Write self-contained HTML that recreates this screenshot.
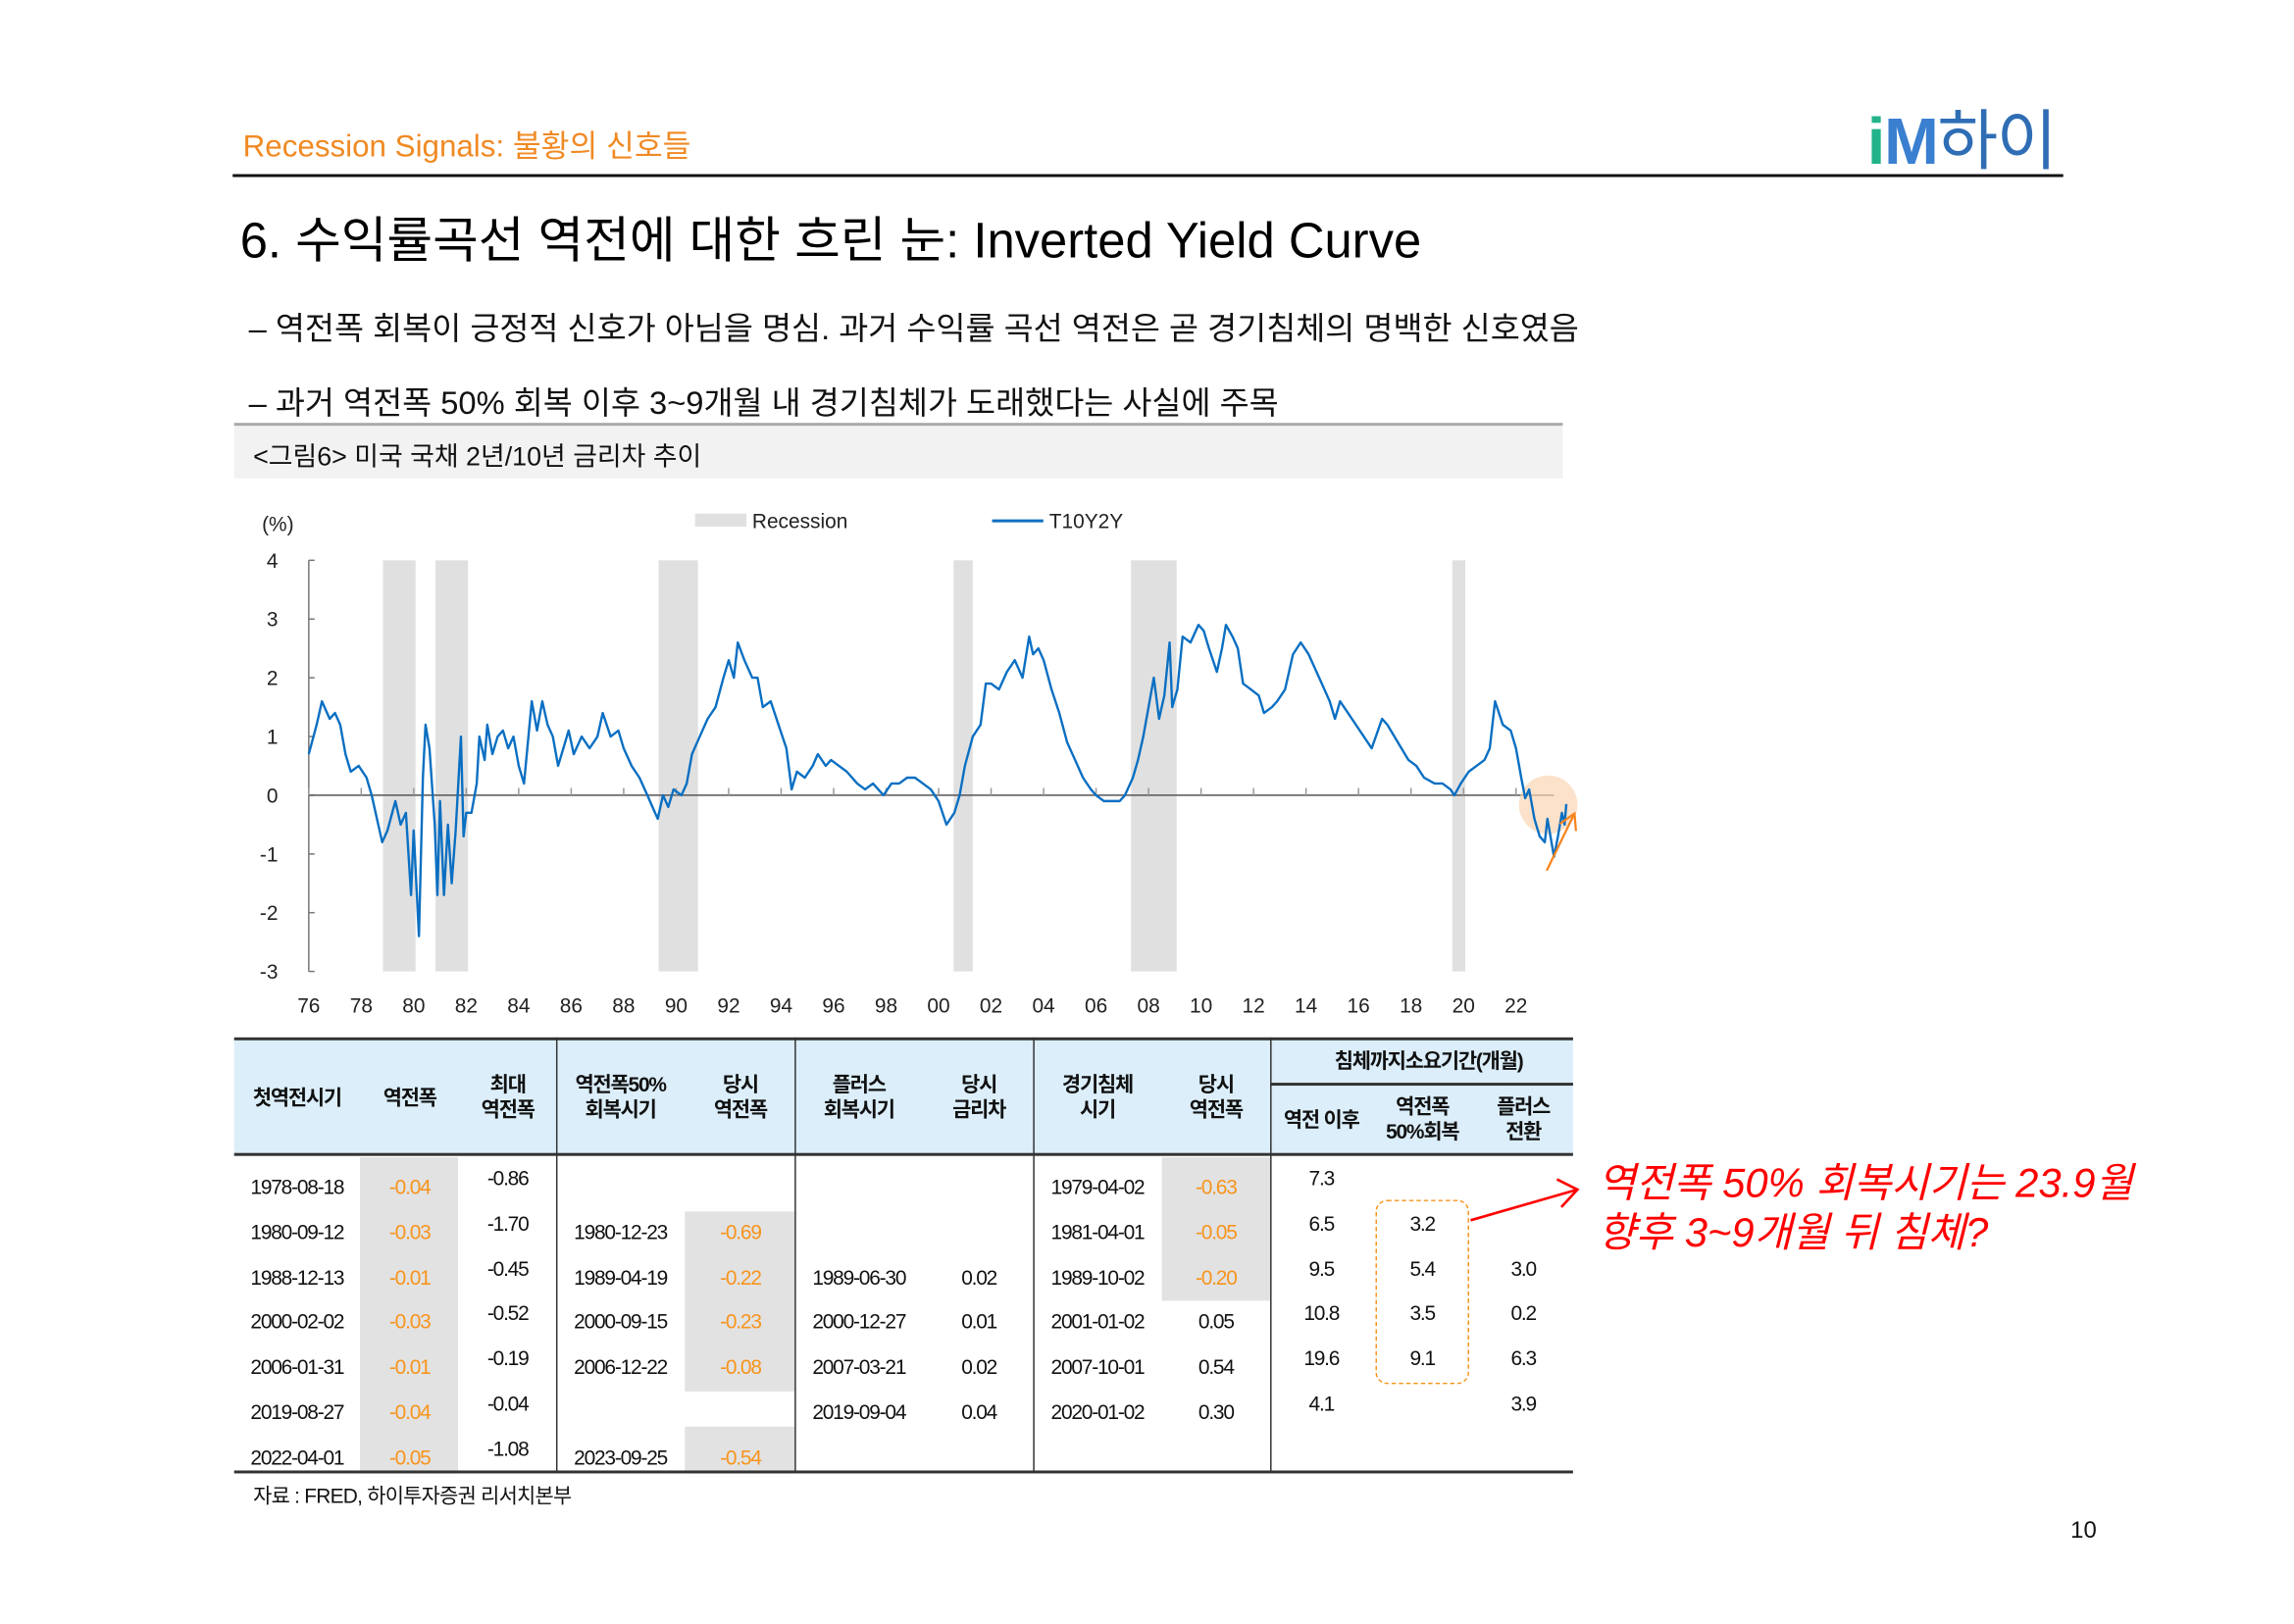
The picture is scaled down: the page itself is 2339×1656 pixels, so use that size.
<!DOCTYPE html>
<html><head><meta charset="utf-8">
<style>
html,body{margin:0;padding:0;background:#fff;}
body{width:2339px;height:1654px;overflow:hidden;position:relative;}
#page{position:absolute;left:0;top:0;width:1570px;height:1110px;transform:scale(1.492);transform-origin:0 0;font-family:"Liberation Sans","Noto Sans CJK KR",sans-serif;color:#111;}
.abs{position:absolute;white-space:nowrap;}
.t{position:absolute;font-size:14px;letter-spacing:-0.8px;text-align:center;white-space:nowrap;}
.o{color:#f7941d;}
</style></head><body>
<div id="page">
<div class="abs" style="left:166px;top:84px;font-size:21px;color:#f08a24;">Recession Signals: 불황의 신호들</div>
<div class="abs" style="left:1276px;top:60px;font-size:45px;font-weight:bold;letter-spacing:-1px;"><span style="color:#22b38a;">i</span><span style="color:#3a7fd0;">M</span><span style="color:#2f6db5;font-weight:normal;">하이</span></div>
<div class="abs" style="left:159px;top:119px;width:1251px;height:2px;background:#111;"></div>
<div class="abs" style="left:164px;top:137px;font-size:34px;color:#000;">6. 수익률곡선 역전에 대한 흐린 눈: Inverted Yield Curve</div>
<div class="abs" style="left:170px;top:208px;font-size:21.9px;">– 역전폭 회복이 긍정적 신호가 아님을 명심. 과거 수익률 곡선 역전은 곧 경기침체의 명백한 신호였음</div>
<div class="abs" style="left:170px;top:259px;font-size:21.9px;">– 과거 역전폭 50% 회복 이후 3~9개월 내 경기침체가 도래했다는 사실에 주목</div>
<div class="abs" style="left:160px;top:289px;width:908px;height:38px;background:#f2f2f2;border-top:2px solid #aaa;box-sizing:border-box;"><span style="position:absolute;left:13px;top:7px;font-size:18px;">&lt;그림6&gt; 미국 국채 2년/10년 금리차 추이</span></div>

<svg id="chart" class="abs" style="left:0;top:0;" width="1570" height="1110"></svg>

<div class="abs" style="left:160px;top:709px;width:915px;height:298px;">
 <div class="abs" style="left:0;top:0;width:915px;height:81px;background:#dbeefa;border-top:2px solid #333;border-bottom:2px solid #333;box-sizing:border-box;"></div>
 <div class="abs" style="left:86px;top:82px;width:67px;height:216px;background:#e2e2e2;"></div>
 <div class="abs" style="left:308px;top:119px;width:75px;height:123px;background:#e2e2e2;"></div>
 <div class="abs" style="left:308px;top:266px;width:75px;height:32px;background:#e2e2e2;"></div>
 <div class="abs" style="left:634px;top:82px;width:74px;height:98px;background:#e2e2e2;"></div>
 <div class="abs" style="left:220px;top:0;width:1px;height:297px;background:#333;"></div>
 <div class="abs" style="left:383px;top:0;width:1px;height:297px;background:#333;"></div>
 <div class="abs" style="left:546px;top:0;width:1px;height:297px;background:#333;"></div>
 <div class="abs" style="left:708px;top:0;width:1px;height:297px;background:#333;"></div>
 <div class="abs" style="left:708px;top:31px;width:207px;height:1.5px;background:#333;"></div>
 <div class="abs" style="left:0;top:296px;width:915px;height:2px;background:#333;"></div>
</div>
<div id="tbl"></div>
<div class="abs" style="left:940px;top:820px;width:64px;height:126px;border:1.5px dashed #f7941d;border-radius:8px;box-sizing:border-box;"></div>
<svg class="abs" style="left:0;top:0" width="1570" height="1110"><line x1="1005" y1="834" x2="1078" y2="813" stroke="#ff0000" stroke-width="1.8"/><polyline points="1064,806 1078,813 1067,825" fill="none" stroke="#ff0000" stroke-width="1.8"/></svg>
<div class="abs" style="left:1092px;top:792px;font-size:28px;font-style:italic;color:#ff0000;line-height:34px;">역전폭 50% 회복시기는 23.9월<br>향후 3~9개월 뒤 침체?</div>
<div class="abs" style="left:173px;top:1012px;font-size:14px;letter-spacing:-0.5px;">자료 : FRED, 하이투자증권 리서치본부</div>
<div class="abs" style="left:1415px;top:1038px;font-size:16px;">10</div>
</div>

<script>
const years=[1976.0,1976.3,1976.5,1976.8,1977.0,1977.2,1977.4,1977.6,1977.9,1978.2,1978.4,1978.6,1978.8,1979.0,1979.3,1979.5,1979.7,1979.9,1980.0,1980.2,1980.35,1980.45,1980.6,1980.8,1980.9,1981.0,1981.15,1981.3,1981.45,1981.6,1981.8,1981.9,1982.0,1982.2,1982.4,1982.5,1982.7,1982.8,1983.0,1983.2,1983.4,1983.6,1983.8,1984.0,1984.2,1984.5,1984.7,1984.9,1985.1,1985.3,1985.5,1985.7,1985.9,1986.1,1986.4,1986.7,1987.0,1987.2,1987.5,1987.8,1988.0,1988.3,1988.6,1988.9,1989.1,1989.3,1989.5,1989.7,1989.9,1990.2,1990.4,1990.6,1990.9,1991.2,1991.5,1991.8,1992.0,1992.2,1992.35,1992.6,1992.9,1993.1,1993.3,1993.6,1993.9,1994.2,1994.4,1994.6,1994.9,1995.2,1995.4,1995.7,1995.9,1996.2,1996.5,1996.9,1997.2,1997.5,1997.9,1998.2,1998.5,1998.8,1999.1,1999.4,1999.7,2000.0,2000.3,2000.6,2000.8,2001.0,2001.3,2001.6,2001.8,2002.0,2002.3,2002.6,2002.9,2003.2,2003.45,2003.6,2003.8,2004.0,2004.3,2004.6,2004.9,2005.2,2005.5,2005.8,2006.0,2006.3,2006.6,2006.9,2007.1,2007.4,2007.6,2007.8,2008.0,2008.2,2008.4,2008.6,2008.8,2008.9,2009.1,2009.3,2009.6,2009.9,2010.1,2010.3,2010.6,2010.8,2010.95,2011.2,2011.4,2011.6,2011.9,2012.2,2012.4,2012.7,2012.9,2013.2,2013.5,2013.8,2014.1,2014.4,2014.7,2014.9,2015.1,2015.3,2015.6,2015.9,2016.2,2016.5,2016.9,2017.1,2017.5,2017.9,2018.2,2018.5,2018.9,2019.2,2019.5,2019.65,2019.9,2020.2,2020.5,2020.8,2021.0,2021.2,2021.5,2021.8,2022.0,2022.2,2022.35,2022.5,2022.7,2022.9,2023.1,2023.2,2023.45,2023.6,2023.75,2023.85,2023.92];
const spread=[0.7,1.2,1.6,1.3,1.4,1.2,0.7,0.4,0.5,0.3,0.0,-0.4,-0.8,-0.6,-0.1,-0.5,-0.3,-1.7,-0.6,-2.4,0.3,1.2,0.8,-0.5,-1.7,-0.1,-1.7,-0.5,-1.5,-0.6,1.0,-0.7,-0.3,-0.3,0.2,1.0,0.6,1.2,0.7,1.0,1.1,0.8,1.0,0.5,0.2,1.6,1.1,1.6,1.2,1.0,0.5,0.8,1.1,0.7,1.0,0.8,1.0,1.4,1.0,1.1,0.8,0.5,0.3,0.0,-0.2,-0.4,0.0,-0.2,0.1,0.0,0.2,0.7,1.0,1.3,1.5,2.0,2.3,2.0,2.6,2.3,2.0,2.0,1.5,1.6,1.2,0.8,0.1,0.4,0.3,0.5,0.7,0.5,0.6,0.5,0.4,0.2,0.1,0.2,0.0,0.2,0.2,0.3,0.3,0.2,0.1,-0.1,-0.5,-0.3,0.0,0.5,1.0,1.2,1.9,1.9,1.8,2.1,2.3,2.0,2.7,2.4,2.5,2.3,1.8,1.4,0.9,0.6,0.3,0.1,0.0,-0.1,-0.1,-0.1,0.0,0.3,0.6,1.0,1.5,2.0,1.3,1.7,2.6,1.5,1.8,2.7,2.6,2.9,2.8,2.5,2.1,2.5,2.9,2.7,2.5,1.9,1.8,1.7,1.4,1.5,1.6,1.8,2.4,2.6,2.4,2.1,1.8,1.6,1.3,1.6,1.4,1.2,1.0,0.8,1.3,1.2,0.9,0.6,0.5,0.3,0.2,0.2,0.1,0.0,0.2,0.4,0.5,0.6,0.8,1.6,1.2,1.1,0.8,0.3,-0.05,0.1,-0.4,-0.7,-0.8,-0.4,-1.05,-0.7,-0.3,-0.5,-0.15];
const recStart=[1978.83,1980.83,1989.33,2000.57,2007.33,2019.57];
const recEnd=[1980.07,1982.07,1990.83,2001.3,2009.07,2020.07];
const yTicks=[4,3,2,1,0,-1,-2,-3];
const xTickYears=[1976,1978,1980,1982,1984,1986,1988,1990,1992,1994,1996,1998,2000,2002,2004,2006,2008,2010,2012,2014,2016,2018,2020,2022];

const svg=document.getElementById('chart');const NS='http://www.w3.org/2000/svg';
function xs(v){return 211+(v-1976)*17.935;}
function ys(v){return 543.5-v*40.14;}
function mk(tag,attrs,parent){const e=document.createElementNS(NS,tag);for(const k in attrs)e.setAttribute(k,attrs[k]);(parent||svg).appendChild(e);return e;}
recStart.forEach((s,i)=>{const r=mk('rect',{x:xs(s),y:ys(4),width:xs(recEnd[i])-xs(s),height:ys(-3)-ys(4),fill:'#e0e0e0'});

});
const ax=mk('line',{x1:211,y1:ys(4),x2:211,y2:ys(-3),stroke:'#777','stroke-width':1});


yTicks.forEach(v=>{mk('line',{x1:211,x2:215,y1:ys(v),y2:ys(v),stroke:'#777'});
const t=mk('text',{x:190,y:ys(v)+5,'text-anchor':'end','font-size':14,fill:'#222'});t.textContent=v;

});
const zl=mk('line',{x1:211,y1:ys(0),x2:1062,y2:ys(0),stroke:'#555','stroke-width':1});


xTickYears.forEach(y=>{mk('line',{x1:xs(y),x2:xs(y),y1:ys(0),y2:ys(0)-5,stroke:'#999'});
const t=mk('text',{x:xs(y),y:692,'text-anchor':'middle','font-size':14,fill:'#222'});t.textContent=String(y%100).padStart(2,'0');

});
const circ=mk('circle',{cx:1058,cy:550,r:20,fill:'#fbd5b5',opacity:0.7});


let d='';years.forEach((y,i)=>{d+=(i?'L':'M')+xs(y).toFixed(1)+','+ys(spread[i]).toFixed(1);});
const ln=mk('path',{d:d,fill:'none',stroke:'#0a6fc2','stroke-width':1.6,'stroke-linejoin':'round'});


mk('line',{x1:1057,y1:595,x2:1076,y2:556,stroke:'#f7841d','stroke-width':1.5});
mk('polyline',{points:'1066,563 1076,556 1077,568',fill:'none',stroke:'#f7841d','stroke-width':1.5});
const pu=mk('text',{x:179,y:363,'font-size':14,fill:'#222'});pu.textContent='(%)';


const lg1=mk('rect',{x:475,y:351,width:35,height:9,fill:'#e0e0e0'});


const lt1=mk('text',{x:514,y:361,'font-size':14,fill:'#222'});lt1.textContent='Recession';


mk('line',{x1:678,x2:713,y1:356,y2:356,stroke:'#0a6fc2','stroke-width':2});
const lt2=mk('text',{x:717,y:361,'font-size':14,fill:'#222'});lt2.textContent='T10Y2Y';



const colC=[203,280,347,424,506,587,669,750,831,903,972,1041];
const hdr=[['첫역전시기',750],['역전폭',750],['최대<br>역전폭',750],['역전폭50%<br>회복시기',750],['당시<br>역전폭',750],['플러스<br>회복시기',750],['당시<br>금리차',750],['경기침체<br>시기',750],['당시<br>역전폭',750],['역전 이후',765],['역전폭<br>50%회복',765],['플러스<br>전환',765]];
const rows=[
['1978-08-18','-0.04','-0.86','','','','','1979-04-02','-0.63','7.3','',''],
['1980-09-12','-0.03','-1.70','1980-12-23','-0.69','','','1981-04-01','-0.05','6.5','3.2',''],
['1988-12-13','-0.01','-0.45','1989-04-19','-0.22','1989-06-30','0.02','1989-10-02','-0.20','9.5','5.4','3.0'],
['2000-02-02','-0.03','-0.52','2000-09-15','-0.23','2000-12-27','0.01','2001-01-02','0.05','10.8','3.5','0.2'],
['2006-01-31','-0.01','-0.19','2006-12-22','-0.08','2007-03-21','0.02','2007-10-01','0.54','19.6','9.1','6.3'],
['2019-08-27','-0.04','-0.04','','','2019-09-04','0.04','2020-01-02','0.30','4.1','','3.9'],
['2022-04-01','-0.05','-1.08','2023-09-25','-0.54','','','','','','','']];
const tb=document.getElementById('tbl');
function cell(html,x,y,cls,name){const e=document.createElement('div');e.className='t '+(cls||'');e.innerHTML=html;e.style.left=(x-60)+'px';e.style.width='120px';e.style.top=y+'px';


tb.appendChild(e);return e;}
hdr.forEach((h,i)=>{const c=cell(h[0],colC[i],0,'','table-header');c.style.fontWeight='bold';c.style.lineHeight='17px';const n=(h[0].match(/<br>/g)||[]).length+1;c.style.top=(h[1]-n*17/2)+'px';});
const gh=cell('침체까지소요기간(개월)',972,715,'','table-group-header');gh.style.fontWeight='bold';
rows.forEach((r,ri)=>{r.forEach((v,ci)=>{if(!v)return;let y=803+ri*30.8;if(ci==2||ci>=9)y-=6;
cell(v,colC[ci],y,(ci==1||ci==4||(ci==8&&ri<3))?'o':'','table-cell');});});
</script>
</body></html>
